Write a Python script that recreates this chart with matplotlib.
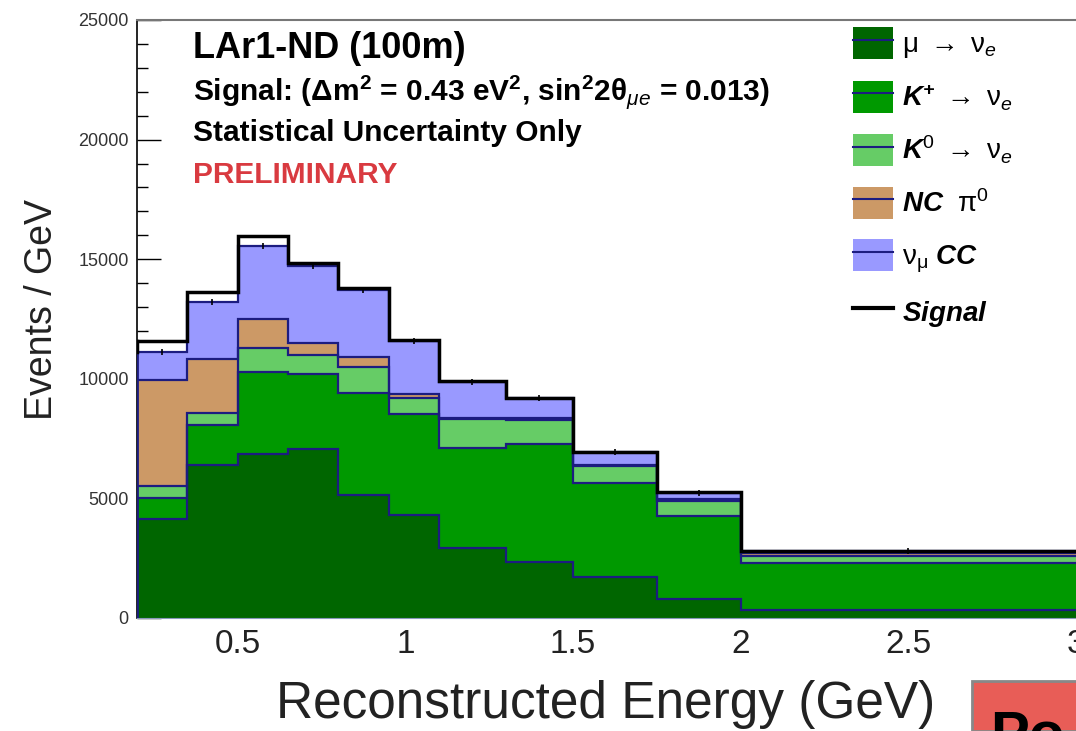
import matplotlib
matplotlib.use('Agg')
import matplotlib.pyplot as plt
from matplotlib.patches import Patch, Rectangle
from matplotlib.lines import Line2D
from matplotlib.legend_handler import HandlerTuple
from matplotlib.ticker import MultipleLocator, FormatStrFormatter
import numpy as np

# bin edges (GeV) and events/GeV per component
edges = [0.2, 0.35, 0.5, 0.65, 0.8, 0.95, 1.1, 1.3, 1.5, 1.75, 2.0, 3.0]
mu_nue = [4130, 6400, 6840, 7050, 5140, 4310, 2910, 2360, 1730, 780, 330]
kplus_nue = [900, 1670, 3460, 3140, 4250, 4210, 4180, 4900, 3900, 3480, 1950]
k0_nue = [500, 520, 980, 810, 1120, 670, 1210, 1020, 730, 630, 310]
nc_pi0 = [4420, 2230, 1210, 490, 420, 170, 80, 70, 40, 70, 110]
numu_cc = [1180, 2410, 3080, 3230, 2790, 2200, 1490, 830, 520, 280, 100]
signal = [460, 390, 420, 110, 70, 70, 30, 20, 15, 10, 10]

labels = [r'$\mathrm{\mu}\ \rightarrow\ \mathrm{\nu}_{\mathit{e}}$',
          r'$\mathbfit{K}^{\mathbfit{+}}\ \rightarrow\ \mathrm{\nu}_{\mathit{e}}$',
          r'$\mathbfit{K}^{\mathit{0}}\ \rightarrow\ \mathrm{\nu}_{\mathit{e}}$',
          r'$\mathbfit{NC}\ \ \mathrm{\pi}^{\mathit{0}}$',
          r'$\mathrm{\nu}_{\mathrm{\mu}}\ \mathbfit{CC}$',
          r'$\mathbfit{Signal}$']
colors = ['#006600', '#009900', '#66cc66', '#cc9966', '#9999ff']
edge_col = '#1c1c80'

plt.rcParams['font.family'] = ['Liberation Sans', 'DejaVu Sans']
plt.rcParams['mathtext.fontset'] = 'custom'
plt.rcParams['mathtext.rm'] = 'Liberation Sans'
plt.rcParams['mathtext.it'] = 'Liberation Sans:italic'
plt.rcParams['mathtext.bf'] = 'Liberation Sans:bold'
plt.rcParams['mathtext.bfit'] = 'Liberation Sans:italic:bold'

fig = plt.figure(figsize=(10.76, 7.31), dpi=100)
ax = fig.add_axes([137/1076, 1-618/731, (1076-137)/1076, (618-20)/731])

comps = [mu_nue, kplus_nue, k0_nue, nc_pi0, numu_cc]
base = np.zeros(len(mu_nue))
for vals, c in zip(comps, colors):
    top = base + np.array(vals)
    ax.stairs(top, edges, baseline=base, fill=True, color=c, zorder=2)
    base = top
# outlines on top of the fills
base = np.zeros(len(mu_nue))
for vals in comps:
    base = base + np.array(vals)
    ax.stairs(base, edges, baseline=None, color=edge_col, lw=1.6, zorder=3)
bkg_tot = base.copy()
sig_tot = bkg_tot + np.array(signal)
ax.stairs(sig_tot, edges, baseline=None, color='black', lw=2.5, zorder=4)
# left side of first bin
ax.plot([edges[0], edges[0]], [0, bkg_tot[0]], color=edge_col, lw=2, zorder=3)
ax.plot([edges[0], edges[0]], [bkg_tot[0], sig_tot[0]], color='black', lw=2.5, zorder=4)

centres = 0.5 * (np.array(edges[:-1]) + np.array(edges[1:]))
ax.plot(centres, bkg_tot, ls='none', marker='|', ms=5, mew=1.2, color='black', zorder=5)

ax.set_xlim(0.2, 3.0)
ax.set_ylim(0, 25000)
ax.set_axisbelow(True)
ax.xaxis.set_major_locator(MultipleLocator(0.5))
ax.xaxis.set_minor_locator(MultipleLocator(0.1))
ax.xaxis.set_major_formatter(FormatStrFormatter('%g'))
ax.yaxis.set_major_locator(MultipleLocator(5000))
ax.yaxis.set_minor_locator(MultipleLocator(1000))
ax.tick_params(axis='y', which='major', direction='in', length=17, width=1,
               labelsize=13, labelcolor='#333333', pad=6)
ax.tick_params(axis='y', which='minor', direction='in', length=8, width=1)
ax.tick_params(axis='x', which='major', direction='in', length=17,
               labelsize=24, labelcolor='#222222', pad=8)
ax.tick_params(axis='x', which='minor', direction='in', length=8)
ax.spines['right'].set_visible(False)
ax.spines['top'].set_color('#777777')
ax.spines['top'].set_linewidth(1.5)
ax.spines['left'].set_linewidth(1.2)
ax.spines['bottom'].set_color('#8899bb')

fig.text(606/1076, 1-718/731, 'Reconstructed Energy (GeV)', fontsize=37,
         ha='center', va='baseline', color='#222222')
fig.text(42/1076, 1-310/731, 'Events / GeV', fontsize=27, rotation=90,
         ha='center', va='center', color='#222222')

tx = 193/1076
fig.text(tx, 1-58/731, 'LAr1-ND (100m)', fontsize=26, fontweight='bold', va='baseline')
fig.text(tx, 1-100/731, r'Signal: ($\mathbf{\Delta}$m$^{\mathbf{2}}$ = 0.43 eV$^{\mathbf{2}}$, sin$^{\mathbf{2}}$2$\mathbf{\theta}_{\mu e}$ = 0.013)',
         fontsize=21.5, fontweight='bold', va='baseline')
fig.text(tx, 1-141/731, 'Statistical Uncertainty Only', fontsize=21.5,
         fontweight='bold', va='baseline')
fig.text(tx, 1-183/731, 'PRELIMINARY', fontsize=21.5, fontweight='bold',
         color='#d93a40', va='baseline')

handles = []
for c in colors:
    handles.append((Patch(facecolor=c, edgecolor='none'),
                    Line2D([], [], color=edge_col, lw=1.5)))
handles.append(Line2D([], [], color='black', lw=3))
fig.legend(handles, labels, loc='upper left',
           bbox_to_anchor=(853/1076, 1-27/731), frameon=False, fontsize=20,
           handlelength=1.45, handleheight=1.4, handletextpad=0.3,
           labelspacing=0.74, borderpad=0, borderaxespad=0,
           handler_map={tuple: HandlerTuple(ndivide=1, pad=0)})

fig.patches.append(Rectangle((972/1076, 0), 0.2, 50/731, transform=fig.transFigure,
                             facecolor='#e85d57', edgecolor='#888888', lw=2,
                             zorder=5))
fig.text(990/1076, 1-710/731, 'Po', fontsize=42, fontweight='bold', va='top',
         ha='left', color='black', zorder=6)

fig.savefig('out.png', dpi=100)
